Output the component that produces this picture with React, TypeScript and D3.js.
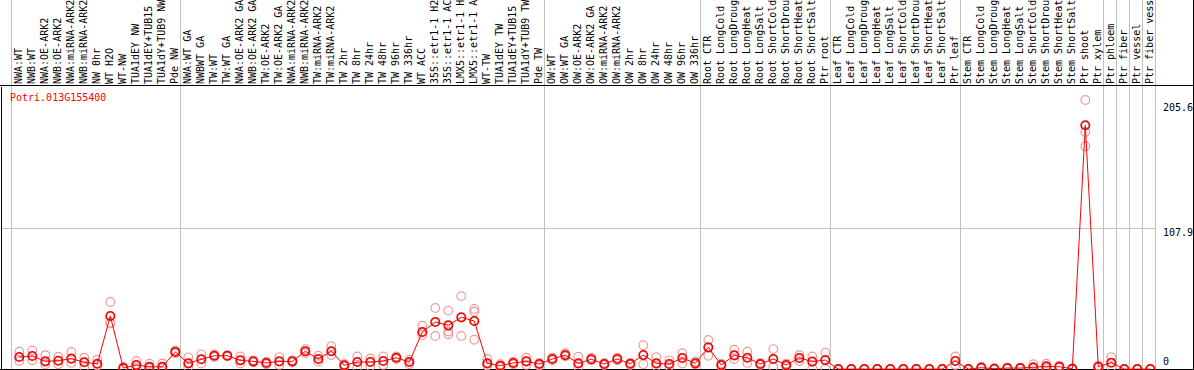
import React from "react";
import * as d3 from "d3";

const geneName = "Potri.013G155400";

const groupSizes = [13, 28, 12, 10, 10, 11, 1, 1, 1, 1];

const categories = [
  "NWA:WT","NWB:WT","NWA:OE-ARK2","NWB:OE-ARK2","NWA:miRNA-ARK2","NWB:miRNA-ARK2","NW 0hr","WT H2O","WT-NW","TUA1dEY NW","TUA1dEY+TUB15 NW","TUA1dY+TUB9 NW","Pde NW",
  "NWA:WT GA","NWBWT GA","TW:WT","TW:WT GA","NWA:OE-ARK2 GA","NWB:OE-ARK2 GA","TW:OE-ARK2","TW:OE-ARK2 GA","NWA:miRNA-ARK2 GA","NWB:miRNA-ARK2 GA","TW:miRNA-ARK2","TW:miRNA-ARK2 GA","TW 2hr","TW 8hr","TW 24hr","TW 48hr","TW 96hr","TW 336hr","WT ACC","35S::etr1-1 H2O","35S::etr1-1 ACC","LMX5::etr1-1 H2O","LMX5::etr1-1 ACC","WT-TW","TUA1dEY TW","TUA1dEY+TUB15 TW","TUA1dY+TUB9 TW","Pde TW",
  "OW:WT","OW:WT GA","OW:OE-ARK2","OW:OE-ARK2 GA","OW:miRNA-ARK2","OW:miRNA-ARK2 GA","OW 2hr","OW 8hr","OW 24hr","OW 48hr","OW 96hr","OW 336hr",
  "Root CTR","Root LongCold","Root LongDrought","Root LongHeat","Root LongSalt","Root ShortCold","Root ShortDrought","Root ShortHeat","Root ShortSalt","Ptr root",
  "Leaf CTR","Leaf LongCold","Leaf LongDrought","Leaf LongHeat","Leaf LongSalt","Leaf ShortCold","Leaf ShortDrought","Leaf ShortHeat","Leaf ShortSalt","Ptr leaf",
  "Stem CTR","Stem LongCold","Stem LongDrought","Stem LongHeat","Stem LongSalt","Stem ShortCold","Stem ShortDrought","Stem ShortHeat","Stem ShortSalt","Ptr shoot","Ptr xylem",
  "Ptr phloem","Ptr fiber","Ptr vessel","Ptr fiber vessel",
];

const meanValues = [
  9.5, 10.3, 6.2, 6.7, 8.3, 5.5, 4.4, 40.8, 1.1, 3.4, 2.1, 2.1, 13.4,
  4.7, 7.8, 10.5, 10.5, 7.0, 6.2, 5.0, 6.2, 6.2, 13.9, 8.0, 13.9, 3.2, 5.7, 5.7, 6.5, 9.0, 5.7, 28.6, 36.2, 33.7, 39.8, 37.0, 4.7, 2.9, 5.0, 6.2, 4.2,
  8.0, 11.0, 4.7, 7.8, 4.2, 8.0, 4.4, 11.0, 4.7, 4.2, 8.8, 4.7,
  16.9, 3.4, 10.8, 9.0, 4.2, 8.0, 3.4, 8.8, 6.0, 7.2,
  0.3, 0.3, 0.3, 0.3, 0.3, 0.3, 0.3, 0.3, 0.3, 6.5,
  0.3, 1.4, 0.6, 1.1, 1.1, 1.7, 2.4, 2.1, 0.6, 186.3, 2.1,
  5.2, 0.3, 0.3, 0.3,
];

const repHigh = [
  13.6, 14.6, 11.0, 9.8, 13.4, 9.0, 7.5, 51.5, 2.0, 6.5, 4.4, 4.7, 14.5,
  9.3, 11.6, 11.5, 11.0, 10.0, 7.0, 6.0, 9.5, 7.0, 15.6, 10.5, 17.7, 4.0, 10.0, 8.5, 10.0, 10.0, 7.5, 33.4, 46.9, 44.9, 56.0, 46.2, 8.0, 4.0, 6.0, 9.0, 5.0,
  9.0, 12.5, 9.8, 9.0, 5.0, 9.0, 5.0, 18.5, 9.5, 7.0, 12.4, 6.0,
  22.5, 4.5, 15.1, 13.6, 5.0, 15.6, 4.5, 11.0, 10.0, 12.8,
  0.4, 0.4, 0.4, 0.4, 0.4, 0.4, 0.4, 0.4, 0.4, 10.0,
  0.4, 2.0, 1.0, 1.5, 1.5, 4.0, 4.5, 3.0, 1.0, 205.6, 3.0,
  9.5, 0.4, 0.4, 0.4,
];

const repLow = [
  6.5, 7.0, 4.0, 4.0, 5.0, 1.7, 3.0, 35.7, 0.5, 1.5, 1.0, 1.0, 12.5,
  2.0, 4.5, 9.5, 10.0, 4.5, 5.5, 4.0, 3.5, 5.5, 12.5, 6.0, 11.0, 2.5, 1.5, 2.5, 3.5, 8.0, 4.0, 26.3, 25.6, 26.9, 25.6, 22.7, 3.0, 2.0, 4.0, 3.5, 3.0,
  7.0, 10.0, 2.0, 7.0, 3.5, 7.0, 3.5, 4.0, 2.5, 2.5, 4.5, 4.0,
  10.5, 2.5, 8.0, 5.0, 3.5, 2.0, 2.5, 6.5, 1.0, 0.5,
  0.2, 0.2, 0.2, 0.2, 0.2, 0.2, 0.2, 0.2, 0.2, 3.5,
  0.2, 1.0, 0.3, 0.7, 0.7, 0.8, 1.0, 1.5, 0.3, 170.3, 1.5,
  2.0, 0.2, 0.2, 0.2,
];

const repExtra: (number | null)[] = [
  null, null, null, null, null, null, null, 35.0, null, null, null, null, null,
  null, null, null, null, null, null, null, null, null, null, null, null, null, null, null, null, null, null, null, null, 29.0, null, 44.1, null, null, null, null, null,
  null, null, null, null, null, null, null, null, null, null, null, null,
  null, null, null, null, null, null, null, null, null, null,
  null, null, null, null, null, null, null, null, null, null,
  null, null, null, null, null, null, null, null, null, 181.2, null,
  null, null, null, null,
];

const yTicks = [0, 107.9, 205.6];

const W = 1194;
const H = 370;
const plotLeft = 11;
const plotRight = 1155;
const headerLine = 85.5;
const yBottom = 369.5;
const yTop = 100;

export default function App() {
  const x = d3.scaleBand<string>().domain(categories).range([plotLeft, plotRight]).paddingInner(0).paddingOuter(0);
  const y = d3.scaleLinear().domain([0, 205.6]).range([yBottom, yTop]);
  const cx = (i: number) => (x(categories[i]) as number) + 8.3;

  const boundaries: number[] = [];
  let acc = 0;
  boundaries.push(0);
  groupSizes.forEach((s) => {
    acc += s;
    boundaries.push(acc);
  });
  const bx = (b: number) => plotLeft + b * x.bandwidth() + 0.5;

  const line = d3
    .line<number>()
    .x((_, i) => cx(i))
    .y((d) => y(d));

  const reps: { i: number; v: number }[] = [];
  meanValues.forEach((_, i) => {
    reps.push({ i, v: repHigh[i] });
    reps.push({ i, v: repLow[i] });
    const e = repExtra[i];
    if (e != null) reps.push({ i, v: e });
  });

  const tickOffsets: Record<number, number> = { 0: -4.5, 1: 7.5, 2: 11 };
  const mono = "'DejaVu Sans Mono', 'Liberation Mono', monospace";

  return (
    <svg
      width={W}
      height={H}
      style={{ position: "absolute", left: 0, top: 0, background: "#fff" }}
      fontFamily={mono}
    >
      <rect x={0} y={0} width={W} height={H} fill="#fff" />
      {boundaries.map((b) => (
        <line key={"g" + b} x1={bx(b)} x2={bx(b)} y1={0} y2={H} stroke="#c0c0c0" strokeWidth={1} shapeRendering="crispEdges" />
      ))}
      <line x1={2} x2={plotRight} y1={Math.round(y(107.9)) + 0.5} y2={Math.round(y(107.9)) + 0.5} stroke="#c0c0c0" strokeWidth={1} shapeRendering="crispEdges" />
      <line x1={0} x2={W} y1={headerLine} y2={headerLine} stroke="#000" strokeWidth={1} shapeRendering="crispEdges" />
      <line x1={1.5} x2={1.5} y1={headerLine + 1} y2={H} stroke="#000" strokeWidth={1} shapeRendering="crispEdges" />
      <line x1={0} x2={W} y1={H - 0.5} y2={H - 0.5} stroke="#000" strokeWidth={1} shapeRendering="crispEdges" />
      <line x1={W - 0.5} x2={W - 0.5} y1={0} y2={H} stroke="#000" strokeWidth={1} shapeRendering="crispEdges" />
      {categories.map((c, i) => {
        const tx = (x(c) as number) + 11;
        const ty = 84;
        return (
          <text key={"l" + i} x={0} y={0} transform={`translate(${tx},${ty}) rotate(-90)`} fontSize={10} fill="#000">
            {c}
          </text>
        );
      })}
      {yTicks.map((t, k) => (
        <text key={"t" + k} x={1163} y={y(t) + tickOffsets[k]} fontSize={10} fill="#000">
          {String(t)}
        </text>
      ))}
      <text x={10} y={101} fontSize={10} fill="#ff0000">
        {geneName}
      </text>
      {reps.map((r, k) => (
        <circle key={"r" + k} cx={cx(r.i)} cy={y(r.v)} r={4.3} fill="none" stroke="#f09999" strokeWidth={1.2} />
      ))}
      <path d={line(meanValues) as string} fill="none" stroke="#ff0000" strokeWidth={1} />
      {meanValues.map((v, i) => (
        <g key={"m" + i}>
          <circle cx={cx(i)} cy={y(v)} r={4.3} fill="none" stroke="#ff0000" strokeWidth={1.5} />
          <circle cx={cx(i)} cy={y(v)} r={3.6} fill="none" stroke="#900000" strokeWidth={0.4} />
        </g>
      ))}
    </svg>
  );
}
